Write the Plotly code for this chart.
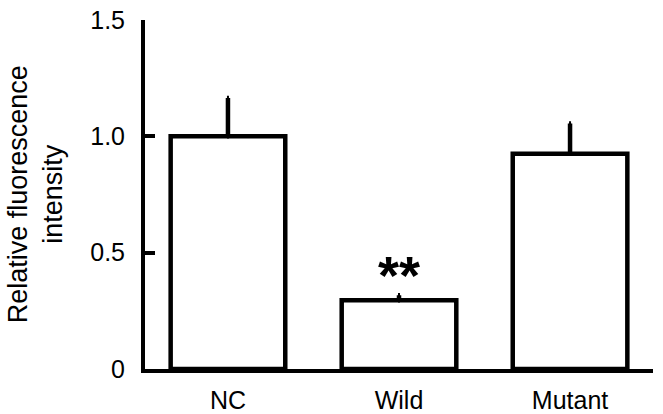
import plotly.graph_objects as go

groups = ["NC", "Wild", "Mutant"]
intensity = [1.0, 0.295, 0.925]
sd = [0.165, 0.022, 0.13]
y_ticks = [0, 0.5, 1.0, 1.5]
y_tick_text = ["0", "0.5", "1.0", "1.5"]

font = "Liberation Sans, Arial, sans-serif"

fig = go.Figure()
fig.add_trace(go.Bar(
    x=groups, y=intensity, width=0.67,
    marker=dict(color="white", line=dict(color="black", width=4.5)),
    error_y=dict(type="data", array=sd, arrayminus=[0, 0, 0], symmetric=False,
                 color="black", thickness=4.5, width=1),
))

# significance mark over the Wild bar
fig.add_annotation(x="Wild", y=0.405, text="<b>**</b>",
                   showarrow=False, yanchor="middle",
                   font=dict(family=font, size=54, color="black"))

fig.add_annotation(xref="paper", yref="paper", x=-0.215, y=0.5,
                   text="Relative fluorescence<br>intensity", textangle=-90,
                   showarrow=False, xanchor="center", yanchor="middle",
                   font=dict(family=font, size=27, color="black"))

fig.update_layout(
    width=663, height=414,
    margin=dict(l=145, r=10, t=20, b=45),
    paper_bgcolor="white", plot_bgcolor="white",
    showlegend=False,
    font=dict(family=font, size=25, color="black"),
    xaxis=dict(range=[-0.485, 2.485], showline=True, linecolor="black", linewidth=4,
               ticks="", showgrid=False, ticklabelstandoff=6, automargin=False,
               tickfont=dict(size=25)),
    yaxis=dict(range=[0, 1.5], tickvals=y_ticks, ticktext=y_tick_text,
               showline=True, linecolor="black", linewidth=4,
               ticks="inside", ticklen=10, tickwidth=4, tickcolor="black",
               showgrid=False, zeroline=False, ticklabelstandoff=11, automargin=False,
               tickfont=dict(size=25)),
)

fig.write_html("out.html", config={"displayModeBar": False},
               post_script="document.body.style.margin='0px';")
